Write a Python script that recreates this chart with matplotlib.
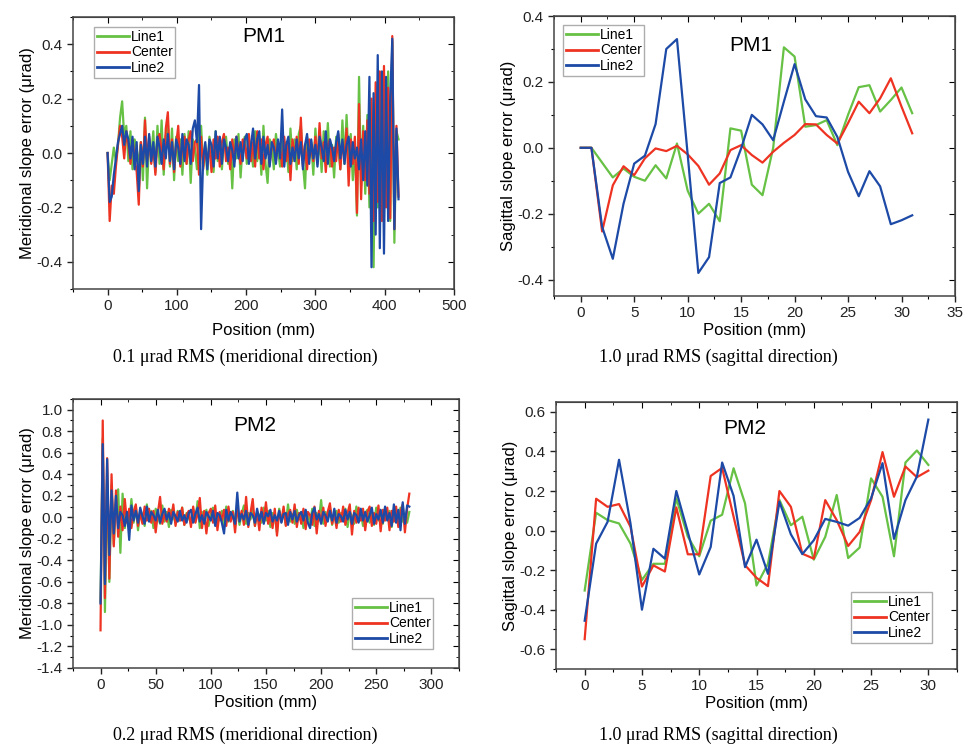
import numpy as np
import matplotlib
matplotlib.use("Agg")
import matplotlib.pyplot as plt
from matplotlib.ticker import MultipleLocator

plt.rcParams["font.family"] = ["Liberation Sans", "DejaVu Sans"]
plt.rcParams["axes.unicode_minus"] = False

### Colours of the three scan lines
GREEN = "#66c144"
RED = "#ee3322"
BLUE = "#1c4aa6"
NAMES = ["Line1", "Center", "Line2"]

### PM1 meridional (x every 3 mm, 0..420)
pm1_mer_x = np.arange(0, 421, 3)
pm1_mer_line1 = [
    0.0, -0.10, -0.04, 0.02, -0.03, 0.03, 0.13, 0.19, 0.06, 0.10,
    -0.03, 0.08, -0.06, 0.05, 0.02, -0.05, 0.04, -0.10, 0.13, -0.13,
    0.05, -0.02, 0.08, -0.07, 0.10, -0.04, 0.12, -0.08, 0.06, 0.11,
    -0.05, 0.09, -0.10, 0.06, -0.03, 0.05, -0.08, 0.07, -0.04, 0.08,
    -0.11, 0.05, 0.02, -0.06, 0.07, 0.10, -0.05, 0.03, -0.08, 0.06,
    0.01, -0.07, 0.08, -0.03, 0.05, -0.06, 0.04, 0.06, -0.04, 0.03,
    -0.13, 0.05, -0.02, 0.07, -0.09, 0.03, 0.06, -0.04, 0.05, 0.02,
    -0.05, 0.08, -0.03, 0.06, -0.08, 0.10, -0.04, -0.11, 0.05, 0.03,
    -0.06, 0.07, 0.01, -0.05, 0.06, -0.02, 0.04, -0.07, 0.09, -0.03,
    0.05, -0.06, 0.07, 0.10, -0.04, -0.13, 0.06, -0.02, 0.04, -0.08,
    0.09, -0.03, 0.05, -0.07, 0.08, -0.02, 0.11, -0.05, 0.03, -0.09,
    0.06, 0.02, -0.06, 0.12, -0.04, 0.14, -0.03, 0.07, -0.10, 0.03,
    -0.23, 0.28, -0.12, 0.10, -0.15, 0.14, -0.20, 0.06, -0.42, 0.18,
    -0.20, 0.25, -0.10, 0.22, -0.15, 0.30, -0.25, 0.41, -0.33, 0.08, 0.05,
]
pm1_mer_center = [
    0.0, -0.25, -0.12, -0.15, -0.05, 0.03, 0.10, 0.06, -0.02, 0.08,
    0.03, -0.04, 0.05, -0.02, -0.07, -0.19, 0.04, -0.05, 0.12, -0.03,
    0.06, -0.04, 0.02, -0.08, 0.05, 0.07, 0.01, -0.06, 0.09, 0.15,
    -0.04, 0.05, -0.07, 0.03, 0.10, -0.05, 0.02, 0.06, -0.04, 0.05,
    0.08, -0.03, 0.04, 0.05, -0.08, 0.06, -0.06, 0.02, -0.04, 0.03,
    -0.07, 0.05, -0.02, 0.06, -0.05, 0.04, 0.07, -0.03, 0.02, -0.06,
    0.05, -0.03, 0.06, 0.01, -0.04, 0.05, 0.03, -0.02, 0.07, -0.03,
    0.04, -0.05, 0.08, -0.02, 0.05, -0.06, 0.03, 0.06, -0.04, 0.02,
    0.05, -0.03, 0.04, 0.02, -0.05, 0.06, -0.03, 0.04, -0.10, 0.05,
    -0.02, 0.06, -0.04, 0.13, -0.05, 0.03, -0.06, 0.05, 0.02, -0.03,
    0.06, -0.04, 0.11, -0.02, 0.04, -0.07, 0.03, 0.05, -0.05, 0.02,
    -0.03, 0.07, -0.06, 0.04, -0.02, 0.09, -0.12, 0.05, -0.04, 0.06,
    -0.22, 0.18, -0.17, 0.08, -0.10, 0.12, -0.15, 0.20, -0.25, 0.26,
    -0.18, 0.30, -0.25, 0.32, -0.20, 0.24, -0.24, 0.43, -0.28, 0.10, -0.16,
]
pm1_mer_line2 = [
    0.0, -0.18, -0.16, -0.08, -0.02, 0.04, 0.07, 0.10, 0.03, 0.08,
    0.05, -0.02, 0.06, -0.06, 0.04, -0.14, 0.03, -0.04, 0.06, -0.05,
    0.07, -0.03, 0.04, -0.05, 0.06, 0.02, -0.04, 0.05, -0.02, 0.07,
    -0.03, 0.04, -0.06, 0.05, 0.02, -0.04, 0.07, -0.03, 0.05, 0.03,
    -0.04, 0.09, 0.12, 0.04, 0.25, -0.28, -0.02, 0.04, -0.06, 0.05,
    0.03, -0.05, 0.08, -0.02, 0.06, -0.04, 0.05, 0.02, -0.03, 0.04,
    0.01, -0.05, 0.06, -0.02, 0.04, -0.03, 0.05, 0.07, -0.04, 0.03,
    0.09, -0.02, 0.05, 0.08, -0.04, 0.06, -0.02, 0.03, -0.05, 0.04,
    0.02, -0.04, 0.05, -0.02, 0.16, -0.05, 0.03, 0.06, -0.04, 0.02,
    -0.03, 0.05, -0.02, 0.04, -0.06, 0.03, 0.07, -0.04, 0.05, -0.02,
    0.03, -0.05, 0.06, 0.02, -0.03, 0.08, -0.04, 0.05, 0.02, -0.03,
    0.04, 0.08, -0.02, 0.05, -0.04, 0.03, 0.06, -0.05, 0.04, -0.02,
    0.02, -0.06, 0.05, -0.10, 0.08, -0.12, 0.28, -0.42, 0.22, -0.30,
    0.36, -0.35, 0.30, -0.37, 0.28, -0.25, 0.20, 0.42, -0.28, 0.09, -0.17,
]

### PM1 sagittal (x every 1 mm, 0..31)
pm1_sag_x = np.arange(0, 32)
pm1_sag_line1 = [
    0.0, 0.0, -0.045, -0.09, -0.063, -0.088, -0.10, -0.053, -0.093, 0.013,
    -0.13, -0.20, -0.17, -0.223, 0.059, 0.052, -0.112, -0.144, 0.0, 0.305,
    0.277, 0.064, 0.069, 0.084, 0.008, 0.10, 0.184, 0.19, 0.11, 0.145,
    0.183, 0.105,
]
pm1_sag_center = [
    0.0, 0.0, -0.254, -0.114, -0.056, -0.083, -0.032, -0.002, -0.01, 0.006,
    -0.02, -0.055, -0.112, -0.078, -0.007, 0.008, -0.022, -0.045, -0.012, 0.015,
    0.039, 0.072, 0.071, 0.039, 0.013, 0.075, 0.14, 0.105, 0.15, 0.211,
    0.125, 0.044,
]
pm1_sag_line2 = [
    0.0, 0.0, -0.24, -0.337, -0.17, -0.048, -0.024, 0.072, 0.30, 0.33,
    -0.02, -0.38, -0.332, -0.107, -0.09, -0.002, 0.10, 0.071, 0.023, 0.14,
    0.254, 0.147, 0.096, 0.092, 0.033, -0.073, -0.147, -0.071, -0.117, -0.232,
    -0.22, -0.205,
]

### PM2 meridional (x every 2 mm, 0..280)
pm2_mer_x = np.arange(0, 281, 2)
pm2_mer_line1 = [
    -0.78, 0.73, -0.88, 0.35, -0.60, 0.30, -0.25, 0.12, 0.26, -0.33,
    0.22, -0.10, 0.05, -0.08, 0.17, -0.05, 0.10, -0.12, 0.06, 0.02,
    -0.08, 0.12, -0.03, 0.06, -0.10, 0.08, 0.02, -0.06, 0.11, -0.04,
    0.05, -0.09, 0.07, 0.01, -0.05, 0.06, -0.03, 0.09, -0.07, 0.04,
    0.00, -0.06, 0.08, -0.04, 0.15, -0.10, 0.05, -0.02, 0.07, -0.08,
    0.03, 0.09, -0.06, 0.04, -0.03, 0.06, -0.09, 0.10, -0.04, 0.02,
    0.06, -0.05, 0.08, -0.07, 0.03, 0.11, -0.06, 0.04, -0.02, 0.07,
    -0.08, 0.05, 0.02, -0.05, 0.09, -0.03, 0.06, -0.09, 0.04, 0.01,
    -0.14, 0.08, -0.03, 0.05, -0.07, 0.12, -0.04, 0.03, -0.06, 0.07,
    -0.02, 0.05, -0.10, 0.06, 0.02, -0.05, 0.08, -0.08, 0.04, -0.03,
    0.16, -0.06, 0.05, -0.02, 0.09, -0.07, 0.03, 0.06, -0.05, 0.04,
    -0.03, 0.08, -0.09, 0.05, 0.01, -0.06, 0.10, -0.04, 0.06, -0.08,
    0.04, 0.07, -0.05, 0.03, -0.07, 0.09, -0.03, 0.05, -0.06, 0.08,
    -0.02, 0.06, -0.09, 0.05, 0.03, -0.06, 0.09, -0.04, 0.02, -0.05, 0.05,
]
pm2_mer_center = [
    -1.05, 0.90, -0.75, 0.55, -0.57, 0.40, -0.27, 0.25, -0.18, 0.10,
    -0.12, 0.17, -0.05, 0.08, -0.10, 0.05, 0.12, -0.08, 0.04, -0.06,
    0.10, -0.03, 0.08, -0.05, 0.06, -0.14, 0.04, 0.19, -0.06, 0.03,
    -0.04, 0.08, -0.02, 0.12, -0.08, 0.05, -0.03, 0.09, -0.07, 0.02,
    0.06, -0.09, 0.10, -0.05, 0.03, 0.18, -0.10, 0.06, -0.15, 0.04,
    0.08, -0.05, 0.11, -0.12, 0.05, -0.03, 0.07, -0.08, 0.10, -0.04,
    0.05, -0.14, 0.09, -0.03, 0.06, -0.07, 0.19, -0.09, 0.04, 0.17,
    -0.08, 0.05, -0.12, 0.09, -0.04, 0.14, -0.06, 0.03, -0.10, 0.08,
    -0.17, 0.06, -0.04, 0.10, -0.08, 0.03, 0.07, -0.05, 0.12, -0.09,
    0.04, -0.06, 0.08, -0.11, 0.05, 0.02, -0.07, 0.10, -0.15, 0.06,
    -0.04, 0.09, -0.08, 0.05, 0.13, -0.06, 0.03, -0.10, 0.07, -0.04,
    0.10, -0.07, 0.04, 0.12, -0.16, 0.06, -0.05, 0.09, -0.03, 0.08,
    -0.12, 0.05, 0.10, -0.08, 0.04, -0.06, 0.11, -0.13, 0.07, -0.03,
    0.09, -0.12, 0.06, -0.04, 0.10, -0.09, 0.05, 0.12, -0.14, 0.08, 0.22,
]
pm2_mer_line2 = [
    -0.80, 0.68, -0.62, 0.54, -0.35, 0.25, -0.15, 0.20, -0.10, 0.05,
    0.02, -0.08, 0.05, -0.21, 0.11, -0.03, 0.06, -0.05, 0.09, 0.01,
    -0.06, 0.10, -0.04, 0.05, 0.02, -0.03, 0.07, -0.05, 0.03, 0.08,
    -0.02, 0.04, -0.06, 0.05, 0.01, -0.04, 0.06, -0.03, 0.02, -0.05,
    0.04, 0.07, -0.05, 0.03, 0.09, -0.04, 0.02, -0.06, 0.05, 0.01,
    -0.03, 0.06, -0.08, 0.04, 0.02, -0.05, -0.15, 0.07, -0.03, 0.05,
    0.01, -0.06, 0.23, -0.04, 0.03, -0.02, 0.06, -0.07, 0.04, 0.02,
    -0.05, 0.08, -0.03, 0.05, -0.06, 0.04, 0.01, 0.07, -0.04, 0.02,
    -0.03, 0.06, -0.05, 0.03, 0.04, -0.07, 0.05, -0.02, 0.06, -0.04,
    0.02, 0.05, -0.03, 0.07, -0.05, -0.10, 0.04, 0.09, -0.02, 0.03,
    -0.06, 0.05, 0.02, -0.04, 0.06, -0.03, 0.08, -0.05, 0.03, 0.01,
    -0.04, 0.07, -0.02, 0.05, -0.06, 0.04, 0.02, -0.05, 0.08, -0.03,
    0.05, -0.04, 0.02, 0.09, -0.06, 0.03, -0.02, 0.07, -0.05, 0.10,
    -0.03, 0.04, -0.08, 0.12, -0.05, 0.07, -0.12, 0.14, -0.06, 0.11, 0.10,
]

### PM2 sagittal (x every 1 mm, 0..30)
pm2_sag_x = np.arange(0, 31)
pm2_sag_line1 = [
    -0.303, 0.09, 0.053, 0.036, -0.066, -0.25, -0.168, -0.168, 0.163, -0.03,
    -0.13, 0.05, 0.08, 0.315, 0.137, -0.278, -0.168, 0.155, 0.027, 0.07,
    -0.147, -0.032, 0.18, -0.139, -0.086, 0.264, 0.171, -0.13, 0.344, 0.405,
    0.332,
]
pm2_sag_center = [
    -0.549, 0.161, 0.12, 0.134, 0.019, -0.283, -0.176, -0.207, 0.117, -0.12,
    -0.12, 0.276, 0.317, 0.07, -0.175, -0.239, -0.281, 0.20, 0.12, -0.117,
    -0.142, 0.154, 0.053, -0.078, -0.007, 0.154, 0.397, 0.171, 0.324, 0.27,
    0.303,
]
pm2_sag_line2 = [
    -0.456, -0.066, 0.044, 0.358, 0.036, -0.40, -0.092, -0.142, 0.20, -0.007,
    -0.222, -0.083, 0.344, 0.175, -0.185, -0.046, -0.219, 0.146, -0.019, -0.119,
    -0.049, 0.059, 0.044, 0.025, 0.064, 0.163, 0.341, -0.042, 0.154, 0.273,
    0.561,
]

W, H = 965, 746


def style_axes(ax, xmaj, ymaj, xlim, ylim, xpad=2):
    # Origin-like frame: ticks out on left/bottom, in on top/right
    ax.set_xlim(*xlim)
    ax.set_ylim(*ylim)
    ax.xaxis.set_major_locator(MultipleLocator(xmaj))
    ax.xaxis.set_minor_locator(MultipleLocator(xmaj / 2))
    ax.yaxis.set_major_locator(MultipleLocator(ymaj))
    ax.yaxis.set_minor_locator(MultipleLocator(ymaj / 2))
    ax.tick_params(which="major", direction="out", length=4, width=1, labelsize=11, colors="#222222")
    ax.tick_params(which="minor", direction="out", length=2.5, width=0.8)
    for side in ax.spines.values():
        side.set_color("#444444")
        side.set_linewidth(1.1)

    top = ax.secondary_xaxis("top")
    top.xaxis.set_major_locator(MultipleLocator(xmaj))
    top.xaxis.set_minor_locator(MultipleLocator(xmaj / 2))
    top.tick_params(which="major", direction="in", length=4, labeltop=False)
    top.tick_params(which="minor", direction="in", length=2.5)
    top.spines["top"].set_color("#444444")

    right = ax.secondary_yaxis("right")
    right.yaxis.set_major_locator(MultipleLocator(ymaj))
    right.yaxis.set_minor_locator(MultipleLocator(ymaj / 2))
    right.tick_params(which="major", direction="in", length=4, labelright=False)
    right.tick_params(which="minor", direction="in", length=2.5)
    right.spines["right"].set_color("#444444")

    ax.set_xlabel("Position (mm)", fontsize=12, labelpad=xpad)


def draw_lines(ax, x, series, lw):
    for y, color, name in zip(series, [GREEN, RED, BLUE], NAMES):
        ax.plot(x, y, color=color, lw=lw, label=name)


def add_legend(ax, left_px, top_px):
    # Legend placed by its upper-left corner in figure pixels
    leg = ax.legend(loc="upper left", bbox_to_anchor=(left_px / W, 1 - top_px / H),
                    bbox_transform=ax.figure.transFigure, fontsize=10, frameon=True,
                    fancybox=False, edgecolor="#999999", handlelength=2.3,
                    handletextpad=0.15, borderpad=0.2, labelspacing=0.12,
                    borderaxespad=0)
    leg.get_frame().set_linewidth(1)
    for line in leg.get_lines():
        line.set_linewidth(2)


fig = plt.figure(figsize=(9.65, 7.46), dpi=100)

# Top left: PM1 meridional
ax1 = fig.add_axes([0.0756, 0.6126, 0.3948, 0.3646])
draw_lines(ax1, pm1_mer_x, [pm1_mer_line1, pm1_mer_center, pm1_mer_line2], 1.6)
style_axes(ax1, 100, 0.2, (-50, 500), (-0.5, 0.5), xpad=7)
ax1.set_ylabel("Meridional slope error (μrad)", fontsize=12, labelpad=1)
ax1.text(0.5, 0.93, "PM1", transform=ax1.transAxes, ha="center", va="center", fontsize=15)
add_legend(ax1, 94, 27)

# Top right: PM1 sagittal
ax2 = fig.add_axes([0.5741, 0.6032, 0.4155, 0.3753])
draw_lines(ax2, pm1_sag_x, [pm1_sag_line1, pm1_sag_center, pm1_sag_line2], 1.6)
style_axes(ax2, 5, 0.2, (-2.5, 35), (-0.45, 0.4))
ax2.set_ylabel("Sagittal slope error (μrad)", fontsize=12, labelpad=1)
ax2.text(0.49, 0.895, "PM1", transform=ax2.transAxes, ha="center", va="center", fontsize=15)
add_legend(ax2, 563, 25)

# Bottom left: PM2 meridional
ax3 = fig.add_axes([0.0756, 0.1046, 0.4, 0.3606])
draw_lines(ax3, pm2_mer_x, [pm2_mer_line1, pm2_mer_center, pm2_mer_line2], 1.6)
style_axes(ax3, 50, 0.2, (-25, 325), (-1.4, 1.1))
ax3.set_ylabel("Meridional slope error (μrad)", fontsize=12, labelpad=1)
ax3.text(0.47, 0.9, "PM2", transform=ax3.transAxes, ha="center", va="center", fontsize=15)
add_legend(ax3, 352, 598)

# Bottom right: PM2 sagittal
ax4 = fig.add_axes([0.5762, 0.1032, 0.4155, 0.3579])
draw_lines(ax4, pm2_sag_x, [pm2_sag_line1, pm2_sag_center, pm2_sag_line2], 1.6)
style_axes(ax4, 5, 0.2, (-2.5, 32.5), (-0.7, 0.65))
ax4.set_ylabel("Sagittal slope error (μrad)", fontsize=12, labelpad=1)
ax4.text(0.47, 0.9, "PM2", transform=ax4.transAxes, ha="center", va="center", fontsize=15)
add_legend(ax4, 851, 592)

# Captions under each panel
serif = ["Liberation Serif", "DejaVu Serif"]
fig.text(0.254, 0.5214, "0.1 μrad RMS (meridional direction)", ha="center", va="center", fontsize=13, family=serif)
fig.text(0.744, 0.5214, "1.0 μrad RMS (sagittal direction)", ha="center", va="center", fontsize=13, family=serif)
fig.text(0.254, 0.0147, "0.2 μrad RMS (meridional direction)", ha="center", va="center", fontsize=13, family=serif)
fig.text(0.744, 0.0147, "1.0 μrad RMS (sagittal direction)", ha="center", va="center", fontsize=13, family=serif)

fig.savefig("out.png", dpi=100)
